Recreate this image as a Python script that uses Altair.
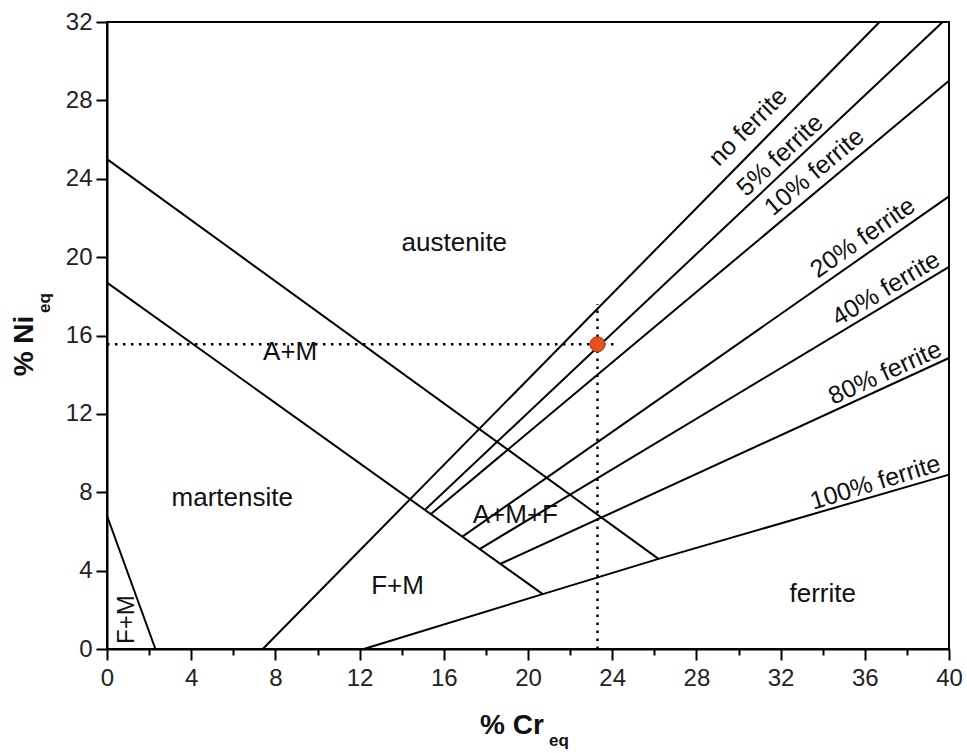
import altair as alt
import pandas as pd

# ---- boundary lines of the Schaeffler diagram (Cr_eq, Ni_eq) ----
line_names = ["A+M upper", "martensite", "F+M", "no ferrite", "5%", "10%",
              "20%", "40%", "80%", "100%"]
line_x = [
    [0, 26.2],
    [0, 20.7],
    [0, 2.3],
    [7.4, 36.7],
    [15.1, 39.7],
    [15.4, 40],
    [16.9, 40],
    [17.7, 40],
    [18.7, 40],
    [12.2, 20.7, 26.2, 40],
]
line_y = [
    [25, 4.6],
    [18.7, 2.8],
    [6.8, 0],
    [0, 32],
    [7.1, 32],
    [6.9, 29.0],
    [5.75, 23.1],
    [5.1, 19.5],
    [4.35, 14.85],
    [0, 2.8, 4.6, 8.9],
]

# ---- ferrite labels ----
flab_text = ["no ferrite", "5% ferrite", "10% ferrite", "20% ferrite",
             "40% ferrite", "80% ferrite", "100% ferrite"]
flab_x = [30.45, 31.97, 33.6, 35.9, 37.0, 36.96, 36.5]
flab_y = [26.65, 25.2, 24.35, 21.0, 18.4, 14.1, 8.5]
flab_angle = [315, 317, 320, 325, 329, 335.5, 343]

# ---- region labels ----
reg_text = ["austenite", "A+M", "martensite", "F+M", "A+M+F", "ferrite"]
reg_x = [16.5, 8.7, 5.95, 13.8, 19.4, 34.0]
reg_y = [20.7, 15.15, 7.7, 3.2, 6.85, 2.8]
rot_text = ["F+M"]
rot_x = [0.95]
rot_y = [1.5]

# ---- marked composition ----
pt_x = [23.3]
pt_y = [15.55]
hguide_x = [0, 24.2]
hguide_y = [15.55, 15.55]
vguide_x = [23.3, 23.3]
vguide_y = [0, 17.6]

x_ticks = list(range(0, 41, 2))
y_ticks = list(range(0, 33, 2))

FONT = "Liberation Sans"
W, H = 842, 627

rows = []
for name, xs, ys in zip(line_names, line_x, line_y):
    for i, (a, b) in enumerate(zip(xs, ys)):
        rows.append({"line": name, "i": i, "x": a, "y": b})
lines_df = pd.DataFrame(rows)

xscale = alt.Scale(domain=[0, 40], nice=False, zero=False)
yscale = alt.Scale(domain=[0, 32], nice=False, zero=False)

tick_cond = {"condition": {"test": "datum.value % 4 === 0", "value": 11}, "value": 6}
xaxis = alt.Axis(values=x_ticks, labelExpr="datum.value % 4 === 0 ? datum.label : ''",
                 title=None, grid=False, tickSize=tick_cond, tickColor="black",
                 tickWidth=2, domainColor="black", domainWidth=2,
                 labelFont=FONT, labelFontSize=24, labelColor="#222",
                 labelPadding=6, labelFlush=False)
yaxis = alt.Axis(values=y_ticks, labelExpr="datum.value % 4 === 0 ? datum.label : ''",
                 title=None, grid=False, tickSize=tick_cond, tickColor="black",
                 tickWidth=2, domainColor="black", domainWidth=2,
                 labelFont=FONT, labelFontSize=24, labelColor="#222",
                 labelPadding=4, labelFlush=False)

lines = alt.Chart(lines_df).mark_line(color="black", strokeWidth=2).encode(
    x=alt.X("x:Q", scale=xscale, axis=xaxis),
    y=alt.Y("y:Q", scale=yscale, axis=yaxis),
    detail="line:N",
    order="i:Q",
)

guides_df = pd.concat([
    pd.DataFrame({"g": "h", "i": [0, 1], "x": hguide_x, "y": hguide_y}),
    pd.DataFrame({"g": "v", "i": [0, 1], "x": vguide_x, "y": vguide_y}),
])
guides = alt.Chart(guides_df).mark_line(color="black", strokeWidth=2.5,
                                        strokeDash=[2.5, 5.5]).encode(
    x="x:Q", y="y:Q", detail="g:N", order="i:Q")

point = alt.Chart(pd.DataFrame({"x": pt_x, "y": pt_y})).mark_point(
    filled=True, size=230, color="#E4521F", stroke="#A8380F", strokeWidth=1,
    opacity=1).encode(x="x:Q", y="y:Q")

flab_df = pd.DataFrame({"t": flab_text, "x": flab_x, "y": flab_y, "a": flab_angle})
flabels = alt.Chart(flab_df).mark_text(font=FONT, fontSize=25, color="#111",
                                       align="center", baseline="middle").encode(
    x="x:Q", y="y:Q", text="t:N", angle=alt.Angle("a:Q", scale=None))

reg_df = pd.DataFrame({"t": reg_text, "x": reg_x, "y": reg_y})
rlabels = alt.Chart(reg_df).mark_text(font=FONT, fontSize=26, color="#111",
                                      align="center", baseline="middle").encode(
    x="x:Q", y="y:Q", text="t:N")

rot_df = pd.DataFrame({"t": rot_text, "x": rot_x, "y": rot_y})
rotlabel = alt.Chart(rot_df).mark_text(font=FONT, fontSize=24, color="#111",
                                       align="center", baseline="middle",
                                       angle=270).encode(
    x="x:Q", y="y:Q", text="t:N")

# axis titles with subscripts
title_df = pd.DataFrame({"a": [0]})
xt_main = alt.Chart(title_df).mark_text(text="% Cr", font=FONT, fontSize=28,
                                        fontWeight="bold", color="#111",
                                        align="center", baseline="middle").encode(
    x=alt.value(405), y=alt.value(704))
xt_sub = alt.Chart(title_df).mark_text(text="eq", font=FONT, fontSize=17,
                                       fontWeight="bold", color="#111",
                                       align="center", baseline="middle").encode(
    x=alt.value(452), y=alt.value(719))
yt_main = alt.Chart(title_df).mark_text(text="% Ni", font=FONT, fontSize=28,
                                        fontWeight="bold", color="#111", angle=270,
                                        align="center", baseline="middle").encode(
    x=alt.value(-82), y=alt.value(324))
yt_sub = alt.Chart(title_df).mark_text(text="eq", font=FONT, fontSize=17,
                                       fontWeight="bold", color="#111", angle=270,
                                       align="center", baseline="middle").encode(
    x=alt.value(-62), y=alt.value(281))

chart = alt.layer(lines, guides, point, flabels, rlabels, rotlabel,
                  xt_main, xt_sub, yt_main, yt_sub).properties(
    width=W, height=H,
    autosize=alt.AutoSizeParams(type="none"),
    padding={"left": 107, "top": 22, "right": 18, "bottom": 104},
    background="white",
).configure_view(stroke="black", strokeWidth=2)

chart.save("out.html", embed_options={"renderer": "svg", "actions": False})
